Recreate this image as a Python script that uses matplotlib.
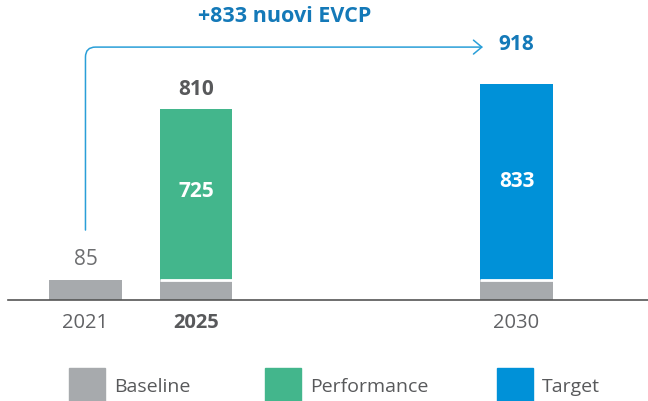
import matplotlib.pyplot as plt
from matplotlib.patches import Rectangle, FancyArrowPatch

# Data ================================================================
years = ['2021', '2025', '2030']
baseline = [85, 85, 85]
performance = [0, 725, 0]
target = [0, 0, 833]
totals = [85, 810, 918]
legend_labels = ['Baseline', 'Performance', 'Target']
title_text = '+833 nuovi EVCP'

# Style ===============================================================
c_base = '#A7AAAD'
c_perf = '#43B68C'
c_targ = '#0091D8'
c_text = '#58595B'
c_blue = '#1479B8'
plt.rcParams['font.family'] = ['Open Sans', 'DejaVu Sans']

W, H = 648, 401
fig = plt.figure(figsize=(W / 100, H / 100), dpi=100)
ax = fig.add_axes([8 / W, (H - 300) / H, 640 / W, 300 / H])

pos = [0, 1, 3.9]
bw = 0.66
ax.bar(pos, baseline, width=bw, color=c_base, zorder=2)
ax.bar(pos, performance, width=bw, bottom=baseline, color=c_perf, zorder=2)
ax.bar(pos, target, width=bw, bottom=baseline, color=c_targ, zorder=2)
# white separator between baseline and upper segment
for p, pf, tg, b in zip(pos, performance, target, baseline):
    if pf + tg > 0:
        ax.plot([p - bw / 2, p + bw / 2], [b, b], color='white', lw=2, zorder=3, solid_capstyle='butt')

ax.set_xlim(-0.701, 5.09)
ax.set_ylim(0, 1274)
for s in ['top', 'right', 'left']:
    ax.spines[s].set_visible(False)
ax.spines['bottom'].set_color('#555555')
ax.spines['bottom'].set_linewidth(1.2)
ax.set_yticks([])
ax.set_xticks(pos)
ax.set_xticklabels(years, fontsize=14.5, color='#616265')
ax.tick_params(axis='x', length=0, pad=9)
ax.get_xticklabels()[1].set_fontweight('bold')
ax.get_xticklabels()[1].set_color(c_text)

# Labels
ax.text(pos[0], totals[0] + 85, str(totals[0]), ha='center', va='center', fontsize=15, color='#6D6E70')
ax.text(pos[1], totals[1] + 86, str(totals[1]), ha='center', va='center', fontsize=15, color=c_text, fontweight='bold')
ax.text(pos[1], baseline[1] + performance[1] / 2 + 15, str(performance[1]), ha='center', va='center', fontsize=15, color='white', fontweight='bold')
ax.text(pos[2], baseline[2] + target[2] / 2 + 3, str(target[2]), ha='center', va='center', fontsize=15, color='white', fontweight='bold')
ax.text(pos[2], 1083, str(totals[2]), ha='center', va='center', fontsize=15, color=c_blue, fontweight='bold')
ax.text(1.805, 1202, title_text, ha='center', va='center', fontsize=15.5, color=c_blue, fontweight='bold')

# Arrow from 2021 to 2030
arr = FancyArrowPatch((pos[0], 297), (3.597, 1074),
                      connectionstyle='angle,angleA=90,angleB=0,rad=10',
                      arrowstyle='->,head_length=6,head_width=5',
                      color='#2A9FD8', lw=1.1, shrinkA=0, shrinkB=0)
ax.add_patch(arr)

# Legend ==============================================================
leg_x = [69, 265, 497]
leg_colors = [c_base, c_perf, c_targ]
for x0, lab, col in zip(leg_x, legend_labels, leg_colors):
    fig.add_artist(Rectangle((x0 / W, (H - 401) / H), 36 / W, 33 / H,
                             transform=fig.transFigure, color=col))
    fig.text((x0 + 45) / W, (H - 387) / H, lab, ha='left', va='center',
             fontsize=14, color=c_text)

fig.savefig('out.png', dpi=100)
